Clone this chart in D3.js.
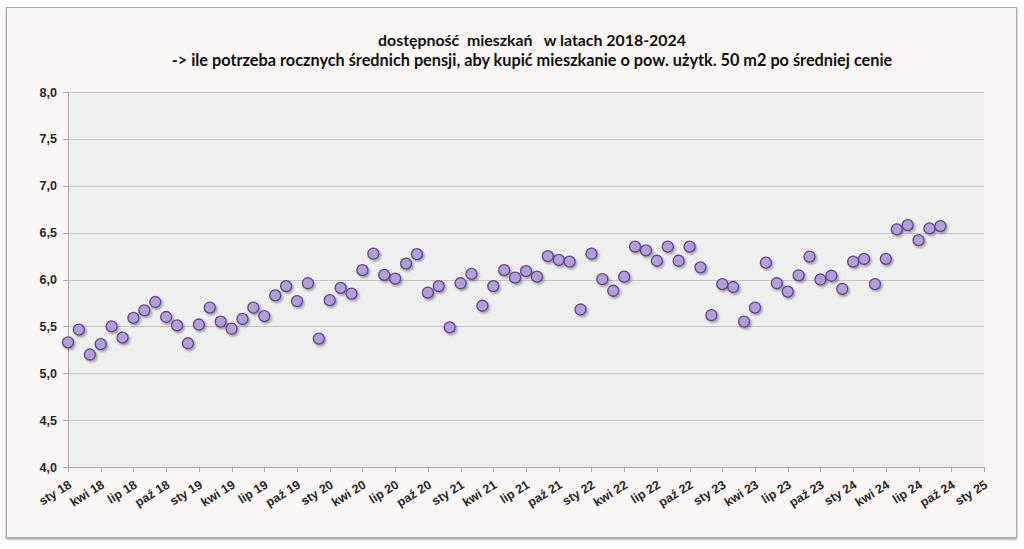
<!DOCTYPE html>
<meta charset="utf-8">
<style>
	body { margin: 0; background: #ffffff; }
	svg { display: block; font-family: Lato, "Open Sans", sans-serif; }
	.title { font-weight: bold; fill: #111111; }
	.axis text { font-weight: bold; font-size: 12.5px; fill: #262626; }
	.axis path, .axis line { stroke: #a8a8a8; shape-rendering: crispEdges; }
	.grid line { stroke: #c4c4c4; shape-rendering: crispEdges; }
	.grid path { display: none; }
</style>
<body>
<svg></svg>
<script src="https://cdn.jsdelivr.net/npm/d3@7"></script>
<script>
	var titleText = "dostępność  mieszkań   w latach 2018-2024";
	var subtitleText = "-> ile potrzeba rocznych średnich pensji, aby kupić mieszkanie o pow. użytk. 50 m2 po średniej cenie";

	// months since Jan 2018, one value per month (sty 18 .. wrz 24)
	var values = [
		5.33, 5.465, 5.20, 5.31, 5.50, 5.38, 5.59, 5.67, 5.76, 5.60, 5.51, 5.32,
		5.52, 5.70, 5.55, 5.475, 5.58, 5.70, 5.61, 5.83, 5.93, 5.77, 5.96, 5.37,
		5.78, 5.91, 5.85, 6.10, 6.275, 6.05, 6.01, 6.17, 6.27, 5.86, 5.93, 5.49,
		5.96, 6.06, 5.72, 5.93, 6.10, 6.02, 6.09, 6.03, 6.25, 6.21, 6.19, 5.68,
		6.275, 6.005, 5.88, 6.03, 6.35, 6.31, 6.20, 6.35, 6.20, 6.35, 6.13, 5.62,
		5.95, 5.92, 5.55, 5.70, 6.18, 5.96, 5.87, 6.045, 6.245, 6.00, 6.04, 5.90,
		6.19, 6.22, 5.95, 6.22, 6.535, 6.58, 6.42, 6.545, 6.57
	];
	var quarterNames = ["sty", "kwi", "lip", "paź"];
	var years = [18, 19, 20, 21, 22, 23, 24, 25];
	var yTicks = [4.0, 4.5, 5.0, 5.5, 6.0, 6.5, 7.0, 7.5, 8.0];

	var tickMonths = [];
	var tickLabels = [];
	years.forEach(function (yr, yi) {
		quarterNames.forEach(function (q, qi) {
			var m = yi * 12 + qi * 3;
			if (m <= 84) { tickMonths.push(m); tickLabels.push(q + " " + yr); }
		});
	});

	var W = 1024, H = 549;
	var plot = { left: 68, right: 984, top: 92, bottom: 467 };

	var svg = d3.select("svg").attr("width", W).attr("height", H);

	var defs = svg.append("defs");
	var sh = defs.append("filter").attr("id", "shadow").attr("x", "-50%").attr("y", "-50%").attr("width", "200%").attr("height", "200%");
	sh.append("feDropShadow").attr("dx", 1.5).attr("dy", 1.8).attr("stdDeviation", 1.1)
		.attr("flood-color", "#000").attr("flood-opacity", 0.35);
	var fs = defs.append("filter").attr("id", "frameShadow").attr("x", "-5%").attr("y", "-5%").attr("width", "110%").attr("height", "110%");
	fs.append("feDropShadow").attr("dx", 0).attr("dy", 1.5).attr("stdDeviation", 1.2)
		.attr("flood-color", "#000").attr("flood-opacity", 0.4);

	// chart frame
	svg.append("rect")
		.attr("x", 6.5).attr("y", 7.5).attr("width", 1010).attr("height", 530)
		.attr("fill", "#faf6f6").attr("stroke", "#a9a9a9").attr("stroke-width", 1)
		.attr("filter", "url(#frameShadow)");

	var x = d3.scaleLinear().domain([0, 84]).range([plot.left, plot.right]);
	var y = d3.scaleLinear().domain([4, 8]).range([plot.bottom, plot.top]);

	// plot area
	svg.append("rect")
		.attr("x", plot.left).attr("y", plot.top)
		.attr("width", plot.right - plot.left).attr("height", plot.bottom - plot.top)
		.attr("fill", "#efefef");

	svg.append("g").attr("class", "grid")
		.attr("transform", "translate(" + plot.left + ",0)")
		.call(d3.axisLeft(y).tickValues(yTicks.slice(1)).tickSize(-(plot.right - plot.left)).tickFormat(""));

	var yAxis = svg.append("g").attr("class", "axis")
		.attr("transform", "translate(" + plot.left + ",0)")
		.call(d3.axisLeft(y).tickValues(yTicks).tickSizeOuter(0).tickSize(5).tickPadding(6)
			.tickFormat(function (d) { return d3.format(".1f")(d).replace(".", ","); }));

	var xAxis = svg.append("g").attr("class", "axis")
		.attr("transform", "translate(0," + plot.bottom + ")")
		.call(d3.axisBottom(x).tickValues(tickMonths).tickSizeOuter(0).tickSize(5)
			.tickFormat(function (d, i) { return tickLabels[i]; }));
	xAxis.selectAll("text")
		.attr("text-anchor", "end")
		.attr("dy", 0)
		.attr("y", 0)
		.attr("transform", "translate(4,20) rotate(-32)");

	// points
	svg.append("g").selectAll("circle").data(values)
		.enter()
		.append("circle")
		.attr("cx", function (d, i) { return x(i); })
		.attr("cy", function (d) { return y(d); })
		.attr("r", 5.5)
		.attr("fill", "#b39ed8")
		.attr("stroke", "#5b4788")
		.attr("stroke-width", 1.3)
		.attr("filter", "url(#shadow)");

	// titles, sized to the reference widths
	function fitText(sel, target, size) {
		sel.style("font-size", size + "px");
		var len = sel.node().getComputedTextLength();
		sel.style("font-size", (size * target / len).toFixed(2) + "px");
	}
	var t1 = svg.append("text").attr("class", "title").attr("x", 532).attr("y", 46)
		.attr("text-anchor", "middle").attr("xml:space", "preserve").style("white-space", "pre").text(titleText);
	fitText(t1, 308, 14);
	var t2 = svg.append("text").attr("class", "title").attr("x", 532).attr("y", 66)
		.attr("text-anchor", "middle").text(subtitleText);
	fitText(t2, 721, 14);
</script>
</body>
